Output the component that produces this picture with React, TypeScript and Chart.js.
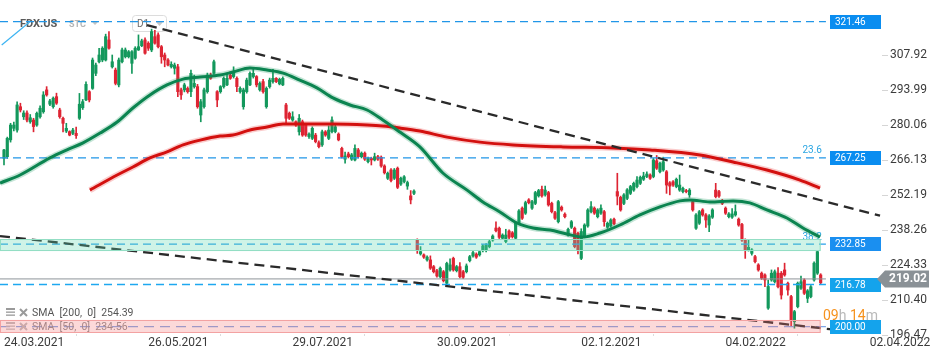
import { useEffect, useRef } from 'react';
import { Chart, registerables } from 'chart.js';

Chart.register(...registerables);

// ---------- DATA ----------
const open = [
  267.1,267.7,274.4,279.0,278.3,287.6,283.6,285.1,281.6,282.3,
  280.3,283.6,285.6,294.3,288.6,287.6,291.6,286.3,283.0,277.9,
  277.7,277.0,277.0,283.0,287.2,290.3,293.6,294.9,300.9,305.5,
  306.2,306.2,314.2,303.5,302.2,296.3,305.5,307.5,307.5,304.9,
  306.9,310.2,311.9,314.2,312.9,310.2,315.5,316.2,311.5,308.2,
  306.2,303.5,302.9,303.5,294.3,294.3,294.9,293.6,295.6,295.6,
  284.3,287.6,293.6,300.2,300.9,293.6,
  293.6,295.6,296.3,300.2,
  299.6,298.9,293.6,287.6,293.6,296.3,299.6,299.6,294.3,297.6,
  287.6,295.6,297.6,298.9,296.7,296.3,288.3,285.0,282.3,281.6,
  277.6,281.6,280.3,275.7,275.0,276.3,273.3,272.4,277.6,275.0,
  277.7,277.7,276.7,271.0,266.7,268.8,266.7,266.4,270.4,267.7,
  269.1,265.7,267.0,266.4,267.7,267.5,264.0,259.1,262.4,259.1,
  263.1,256.8,257.8,256.0,252.1,253.1,
  234.5,229.0,228.6,226.6,
  226.6,223.9,222.3,219.9,221.9,217.3,222.6,227.2,222.3,223.9,
  221.9,221.9,226.3,228.2,228.9,228.6,230.3,230.3,231.9,234.5,
  239.3,239.2,235.2,233.9,238.1,237.4,235.2,241.2,247.2,245.2,
  250.5,247.2,249.1,252.1,254.7,252.5,253.4,249.1,245.4,241.8,
  247.6,244.8,236.5,239.6,239.2,237.2,227.2,235.9,240.1,245.8,
  247.2,243.8,245.2,245.8,239.6,240.1,242.8,253.8,
  251.5,249.1,
  251.1,253.1,254.4,255.8,257.1,258.7,259.8,260.4,259.8,266.1,
  261.7,262.4,261.7,257.3,257.7,255.8,254.4,253.8,254.2,252.5,
  249.8,239.2,241.2,246.5,244.5,240.5,243.6,254.4,253.8,250.2,
  247.2,243.8,243.6,244.5,242.8,240.7,234.5,230.6,229.2,227.9,
  224.6,221.3,220.6,207.4,218.6,217.9,221.3,221.3,222.6,217.3,
  212.0,202.0,208.0,215.3,218.6,211.3,212.0,218.6,221.3,220.6,
];
const high = [
  270.6,275.5,281.0,281.5,289.5,289.0,286.0,286.0,284.5,283.0,
  285.5,288.0,293.6,295.6,290.5,291.5,293.0,287.0,283.5,281.0,
  278.0,279.0,279.5,292.9,290.5,297.5,294.0,307.0,305.0,310.9,
  311.5,316.5,317.5,308.2,303.0,307.0,311.0,311.0,310.0,310.0,
  311.5,316.2,314.5,315.0,313.5,318.5,318.0,317.0,312.0,309.0,
  306.8,305.5,305.0,304.5,295.0,297.0,295.5,302.2,300.2,296.5,
  290.5,295.0,301.0,301.0,306.2,294.0,
  296.0,299.5,300.5,301.5,
  303.5,299.5,295.5,295.0,299.0,301.5,302.9,300.0,297.5,298.5,
  295.5,299.0,302.5,299.2,299.0,299.5,289.0,285.5,285.6,282.0,
  284.5,282.3,281.0,277.2,279.6,277.0,274.0,278.3,278.1,280.0,
  283.6,280.2,277.2,271.5,269.5,269.5,269.0,272.4,271.0,269.6,
  269.6,267.5,267.5,269.1,268.2,268.0,264.5,261.6,263.0,263.0,
  263.6,259.6,260.2,258.0,254.2,254.5,
  235.0,231.9,229.0,228.2,
  228.2,224.4,222.8,223.8,222.4,225.7,227.0,227.7,224.4,225.5,
  222.4,225.0,228.4,230.0,229.4,230.4,232.7,233.1,234.4,236.6,
  241.8,239.7,237.0,238.8,238.6,237.9,241.7,246.6,247.7,250.0,
  251.0,250.3,253.9,254.7,256.0,256.0,253.9,249.6,245.9,250.3,
  248.1,245.3,239.3,242.3,239.7,237.7,239.0,241.0,247.0,249.8,
  247.7,247.0,248.5,246.3,241.7,243.0,243.3,261.1,
  252.0,253.0,
  255.0,256.3,257.6,259.8,260.0,261.5,261.7,260.9,267.0,268.2,
  265.6,267.5,262.2,257.8,258.2,259.2,260.4,255.6,254.7,255.0,
  250.3,245.0,246.3,247.0,245.0,244.6,247.0,257.1,254.3,250.7,
  247.7,245.4,247.0,248.5,243.3,241.2,235.0,234.5,231.1,228.4,
  225.1,221.8,221.1,218.6,222.6,222.6,223.5,222.0,225.3,217.8,
  212.5,206.5,217.8,220.2,219.1,214.8,216.4,225.8,230.4,221.1,
];
const low = [
  264.4,267.0,273.5,278.0,277.5,285.5,282.5,281.5,281.0,277.6,
  279.8,283.0,285.0,291.8,288.0,287.0,288.5,283.0,277.6,277.3,
  276.0,276.5,275.0,282.5,286.5,290.0,289.5,294.5,300.0,305.0,
  305.5,305.8,310.5,303.0,296.3,295.5,305.0,307.0,307.0,300.9,
  306.5,310.0,311.5,308.5,310.0,309.5,312.5,311.0,304.9,303.5,
  303.8,303.0,300.6,291.6,290.5,293.5,293.0,291.6,295.0,287.0,
  281.6,287.0,293.0,298.5,300.5,287.6,
  293.0,295.0,296.0,298.5,
  299.0,293.6,293.0,286.6,293.0,296.0,299.0,295.5,293.8,293.0,
  287.0,295.0,297.0,297.2,296.3,296.0,281.0,282.5,281.8,279.8,
  276.3,275.8,275.8,275.0,274.5,273.2,271.2,271.8,275.8,274.5,
  277.2,277.2,274.0,267.2,265.1,267.2,266.2,266.0,267.2,267.2,
  266.2,265.2,264.4,266.0,266.2,263.5,260.8,258.6,257.7,258.6,
  255.0,256.3,257.3,254.7,248.9,252.6,
  229.2,228.5,227.2,226.1,
  222.8,221.4,219.7,219.4,217.8,216.2,222.1,222.1,221.8,219.4,
  219.2,221.4,225.8,227.7,227.2,228.1,229.8,229.8,231.4,234.0,
  237.7,235.1,234.7,233.4,235.1,235.3,234.7,240.7,242.7,244.7,
  248.9,246.7,248.6,251.6,251.6,252.0,248.0,245.3,242.7,241.3,
  246.0,243.3,236.0,239.1,231.4,229.0,226.7,235.4,239.6,245.3,
  244.7,243.3,244.7,240.0,239.1,239.6,240.5,248.5,
  246.0,248.6,
  250.6,252.6,253.9,255.3,256.6,258.2,259.3,258.6,259.3,262.6,
  261.2,261.9,253.1,252.5,255.9,255.3,253.9,253.3,253.3,251.5,
  246.0,238.7,240.7,244.0,239.5,237.8,243.1,251.3,251.5,248.6,
  244.7,243.3,243.1,244.0,240.0,234.0,227.2,230.1,228.5,225.4,
  222.1,218.8,215.9,206.9,218.1,217.4,215.4,211.0,220.1,212.6,
  200.4,199.4,207.5,214.8,212.8,209.6,211.5,218.1,220.8,217.0,
];
const close = [
  270.4,275.0,280.3,280.3,288.3,286.3,285.1,282.3,283.2,279.7,
  285.0,287.0,292.3,292.3,289.9,291.0,289.0,283.6,281.0,279.0,
  276.3,278.3,276.1,288.6,289.6,296.5,290.3,306.2,304.2,308.2,
  310.9,315.5,310.9,305.5,296.9,306.2,310.2,310.2,309.5,309.5,
  310.9,311.5,313.8,308.9,310.9,317.5,312.9,311.5,307.5,306.2,
  304.2,304.5,304.2,293.6,292.3,296.3,293.6,300.9,296.9,287.6,
  289.6,294.3,300.2,298.9,305.5,290.3,
  295.6,298.9,298.9,298.9,
  301.2,295.6,294.9,294.3,298.2,300.9,300.9,296.3,296.9,293.6,
  294.9,298.2,298.9,297.6,298.5,298.9,283.0,283.0,283.6,280.3,
  283.0,276.3,276.3,276.7,279.0,273.7,271.7,277.6,276.3,278.3,
  282.3,279.6,274.4,267.7,268.0,267.7,268.4,271.0,267.7,269.1,
  266.7,267.0,266.4,267.7,266.7,264.0,261.3,261.1,258.2,262.4,
  255.5,259.1,259.7,257.4,250.5,254.0,
  230.3,229.9,227.7,227.7,
  223.3,221.9,220.2,223.3,218.3,225.2,224.6,222.6,223.9,219.9,
  219.7,224.2,227.9,229.5,227.7,229.9,232.2,232.6,233.9,236.1,
  238.2,235.6,236.5,236.5,235.6,235.8,241.2,246.1,243.2,249.4,
  249.4,249.8,253.4,254.2,252.1,254.4,248.5,245.8,243.2,249.8,
  246.5,243.8,238.8,241.8,231.9,230.6,237.9,240.5,246.5,247.8,
  245.2,246.5,247.2,241.8,241.2,242.5,241.0,252.0,
  246.5,252.5,
  254.5,255.8,257.1,258.4,259.5,260.0,260.8,259.1,266.4,263.1,
  265.1,265.7,256.4,256.0,256.4,258.7,256.4,255.1,253.8,254.4,
  246.5,244.5,245.8,244.5,242.5,244.1,246.5,251.8,252.0,249.1,
  245.2,244.9,244.9,245.8,240.5,234.5,230.6,231.6,230.6,225.9,
  222.6,219.3,218.6,216.0,221.3,221.9,215.9,212.6,220.6,214.6,
  202.7,206.0,217.3,217.9,213.3,214.3,215.9,225.3,229.9,217.5,
];

// SMA 50 (bar index, value)
const sma50Idx = [-1.2,4.9,14.0,19.2,24.1,29.3,34.5,39.3,44.5,49.7,54.6,59.8,65.9,69.8,75.0,80.2,85.1,90.2,95.4,100.3,105.5,110.7,115.5,120.7,126.8,133.8,141.2,146.0,151.2,156.4,161.3,166.5,171.6,176.5,181.7,187.8,193.9,200.0,206.1,209.1,215.2,222.3,227.4,232.6,238.7,243.6,248.8];
const sma50Val = [257.2,260.4,267.2,270.4,273.2,277.1,281.5,287.1,292.3,296.3,298.6,299.4,300.2,301.4,303.0,302.2,301.0,298.2,295.1,291.1,288.3,286.3,282.3,277.5,271.6,261.2,254.4,249.7,245.7,241.3,239.3,238.5,236.9,235.7,237.3,240.5,244.5,247.7,250.1,250.5,249.7,250.1,249.3,246.5,243.3,239.3,235.7];
// SMA 200
const sma200Idx = [26.2,34.5,39.3,44.5,49.7,54.6,59.8,65.9,69.8,75.0,80.2,85.1,90.2,100.3,110.7,115.5,120.7,126.8,135.1,145.1,155.2,170.4,185.7,197.0,212.2,222.3,232.6,242.7,248.8];
const sma200Val = [254.4,260.4,263.6,267.2,269.6,272.4,274.3,275.9,276.3,278.3,279.5,280.7,280.7,280.7,280.3,279.9,279.1,277.9,275.5,273.5,272.4,271.6,271.2,270.4,268.4,265.6,262.4,258.4,255.2];

// Trend lines
const trendUpperIdx = [43.6, 267.1];
const trendUpperVal = [320.1, 244.2];
const trendLowerIdx = [-1.22, 253.4];
const trendLowerVal = [236.1, 198.8];
const fibDiagIdx = [-0.7, 7.9];
const fibDiagVal = [312.2, 321.46];

// Horizontal levels
const levelValues = [321.46, 267.25, 232.85, 216.78, 200.0];
const levelStartIdx = -1.22;
const levelEndIdx = 250.6;
const currentPrice = 219.02;

// Zones
const zoneLow = [230.1, 197.6];
const zoneHigh = [234.9, 202.7];
const zoneStartIdx = -1.22;
const zoneEndIdx = 249;

// Fibonacci labels
const fibLabels = ['23.6', '38.2'];
const fibLabelLevels = [267.25, 232.85];
const fibLabelIdx = 249.4;

// Axis ticks
const yTicks = [196.47, 210.40, 224.33, 238.26, 252.19, 266.13, 280.06, 293.99, 307.92];
const dateTickIdx = [0, 44, 88, 132, 176, 220, 264];
const dateLabels = ['24.03.2021', '26.05.2021', '29.07.2021', '30.09.2021', '02.12.2021', '04.02.2022', '02.04.2022'];

const smaLegend = ['SMA  [200,  0]  254.39', 'SMA  [50,  0]  234.56'];
const symbol = 'FDX.US';
const countdown = ['09', 'h ', '14', 'm'];

const X_MIN = -1.22;
const X_MAX = 267.7;
const Y_MIN = 197.09;
const Y_MAX = 330.1;

const GREEN = '#13985c';
const RED = '#de2433';

const overlayPlugin = {
  id: 'overlay',
  beforeDatasetsDraw(chart: any) {
    const { ctx, scales } = chart;
    const x = scales.x, y = scales.y;
    ctx.save();
    // fib labels
    ctx.font = '10px Roboto';
    ctx.fillStyle = '#2ba6e3';
    ctx.textAlign = 'right';
    ctx.textBaseline = 'alphabetic';
    fibLabels.forEach((t, k) => {
      ctx.fillText(t, x.getPixelForValue(fibLabelIdx), y.getPixelForValue(fibLabelLevels[k]) - 4.5);
    });
    // header
    ctx.textAlign = 'left';
    ctx.textBaseline = 'middle';
    ctx.font = 'bold 11px Roboto';
    ctx.fillStyle = '#5a5a5a';
    ctx.fillText(symbol, 20, 24);
    ctx.font = 'bold 9px Roboto';
    ctx.fillStyle = '#b5b5b5';
    ctx.fillText('STC', 69, 25);
    ctx.fillStyle = '#c4c4c4';
    ctx.beginPath(); ctx.moveTo(91, 21); ctx.lineTo(99, 21); ctx.lineTo(95, 25); ctx.closePath(); ctx.fill();
    ctx.fillStyle = '#ffffff';
    ctx.strokeStyle = '#dcdcdc';
    ctx.lineWidth = 1;
    ctx.beginPath();
    (ctx as any).roundRect(132.5, 15.5, 34, 16, 3);
    ctx.fill(); ctx.stroke();
    ctx.font = '10px Roboto';
    ctx.fillStyle = '#6d6d6d';
    ctx.fillText('D1', 137, 24);
    ctx.fillStyle = '#c8c8c8';
    ctx.beginPath(); ctx.moveTo(156, 22); ctx.lineTo(163, 22); ctx.lineTo(159.5, 26); ctx.closePath(); ctx.fill();
    ctx.restore();
  },
  afterDatasetsDraw(chart: any) {
    const { ctx, scales, chartArea } = chart;
    const x = scales.x, y = scales.y;
    ctx.save();
    // SMA legend
    ctx.font = '10.5px Roboto';
    ctx.textAlign = 'left';
    ctx.textBaseline = 'middle';
    smaLegend.forEach((t, k) => {
      const ty = chartArea.bottom - 21 + k * 14;
      const iconC = k === 0 ? '#9a9a9a' : '#bdbdbd';
      ctx.fillStyle = iconC;
      ctx.fillRect(6, ty - 5, 9, 2);
      ctx.fillRect(6, ty - 1.5, 9, 1.3);
      ctx.fillRect(6, ty + 1.5, 9, 1.3);
      ctx.strokeStyle = iconC;
      ctx.lineWidth = 2;
      ctx.beginPath();
      ctx.moveTo(20, ty - 4); ctx.lineTo(27, ty + 3);
      ctx.moveTo(27, ty - 4); ctx.lineTo(20, ty + 3);
      ctx.stroke();
      ctx.fillStyle = k === 0 ? '#555555' : '#8c8c8c';
      ctx.fillText(t, 32, ty);
    });
    // zones
    const fills = ['rgba(95,215,175,0.30)', 'rgba(245,120,120,0.28)'];
    const strokes = ['#93dec4', '#f3a2a2'];
    const x0 = x.getPixelForValue(zoneStartIdx);
    const x1 = x.getPixelForValue(zoneEndIdx);
    zoneLow.forEach((lo, k) => {
      const yt = y.getPixelForValue(zoneHigh[k]);
      const yb = y.getPixelForValue(lo);
      ctx.fillStyle = fills[k];
      ctx.fillRect(x0, yt, x1 - x0, yb - yt);
      ctx.strokeStyle = strokes[k];
      ctx.lineWidth = 1;
      ctx.strokeRect(x0 + 0.5, Math.round(yt) + 0.5, x1 - x0 - 1, Math.round(yb - yt) - 1);
    });
    ctx.restore();
  },
  afterDraw(chart: any) {
    const { ctx, scales, chartArea } = chart;
    const y = scales.y;
    ctx.save();
    // level boxes
    const boxColors = ['#0a8df0', '#0a8df0', '#1a8ff0', '#14a3ec', '#14a3ec'];
    const bl = chartArea.right - 52;
    ctx.font = '10px Roboto';
    ctx.textAlign = 'left';
    ctx.textBaseline = 'middle';
    levelValues.forEach((v, k) => {
      const py = y.getPixelForValue(v);
      ctx.fillStyle = boxColors[k];
      ctx.fillRect(bl, Math.round(py - 7), 51, 14);
      ctx.fillStyle = '#ffffff';
      ctx.fillText(v.toFixed(2), bl + 5, py + 0.5);
    });
    // countdown
    ctx.font = '14px Roboto';
    let cx = chartArea.right - 59;
    const cy = chartArea.bottom - 18;
    countdown.forEach((t, k) => {
      ctx.fillStyle = k % 2 === 0 ? '#f6921e' : '#b9b9b9';
      ctx.fillText(t, cx, cy);
      cx += ctx.measureText(t).width;
    });
    // current price arrow box
    const py = y.getPixelForValue(currentPrice);
    const r = chartArea.right;
    ctx.fillStyle = '#8a9196';
    ctx.beginPath();
    ctx.moveTo(r - 5, py);
    ctx.lineTo(r + 3, py - 8.5);
    ctx.lineTo(r + 47, py - 8.5);
    ctx.lineTo(r + 47, py + 8.5);
    ctx.lineTo(r + 3, py + 8.5);
    ctx.closePath();
    ctx.fill();
    ctx.font = 'bold 12px Roboto';
    ctx.fillStyle = '#ffffff';
    ctx.fillText(currentPrice.toFixed(2), r + 7, py + 0.5);
    ctx.restore();
  },
};

export default function App() {
  const ref = useRef<HTMLCanvasElement>(null);
  useEffect(() => {
    const canvas = ref.current;
    if (!canvas) return;
    Chart.defaults.font.family = 'Roboto';
    const n = Math.min(open.length, high.length, low.length, close.length);
    const idx = Array.from({ length: n }, (_, i) => i);
    const colors = idx.map((i) => (close[i] >= open[i] ? GREEN : RED));
    const pts = (xs: number[], ys: number[]) => xs.map((xv, k) => ({ x: xv, y: ys[k] }));
    const levelColors = ['#2196e8', '#2196e8', '#2aa0ea', '#1ea8f0', '#7fa6e6'];
    const levelDatasets: any[] = levelValues.map((v, k) => ({
      type: 'line',
      data: [{ x: levelStartIdx, y: v }, { x: levelEndIdx, y: v }],
      borderColor: levelColors[k],
      borderWidth: k === 3 ? 1.6 : 1.2,
      borderDash: k === 4 ? [10, 6] : [8, 5],
      pointRadius: 0,
      order: 3,
    }));
    const chart = new Chart(canvas, {
      type: 'bar',
      data: {
        datasets: [
          {
            type: 'line',
            data: pts(trendUpperIdx, trendUpperVal),
            borderColor: '#2a2a2a',
            borderWidth: 2.3,
            borderDash: [10, 6],
            pointRadius: 0,
            order: 0,
          } as any,
          {
            type: 'line',
            data: pts(trendLowerIdx, trendLowerVal),
            borderColor: '#2a2a2a',
            borderWidth: 2.3,
            borderDash: [10, 6],
            pointRadius: 0,
            order: 0,
          },
          {
            type: 'line',
            data: pts(fibDiagIdx, fibDiagVal),
            borderColor: '#3db4f2',
            borderWidth: 1.2,
            pointRadius: 0,
            order: 0,
          },
          {
            type: 'line',
            data: pts(sma50Idx, sma50Val),
            borderColor: '#0b8450',
            borderWidth: 3,
            cubicInterpolationMode: 'monotone',
            pointRadius: 0,
            order: 1,
          },
          {
            type: 'line',
            data: pts(sma200Idx, sma200Val),
            borderColor: '#d3100f',
            borderWidth: 3,
            cubicInterpolationMode: 'monotone',
            pointRadius: 0,
            order: 1,
          },
          {
            type: 'line',
            data: pts(sma50Idx, sma50Val),
            borderColor: 'rgba(20,150,90,0.25)',
            borderWidth: 6,
            cubicInterpolationMode: 'monotone',
            pointRadius: 0,
            order: 2,
          },
          {
            type: 'line',
            data: pts(sma200Idx, sma200Val),
            borderColor: 'rgba(235,50,50,0.25)',
            borderWidth: 6,
            cubicInterpolationMode: 'monotone',
            pointRadius: 0,
            order: 2,
          },
          ...levelDatasets,
          {
            type: 'line',
            data: [{ x: levelStartIdx, y: currentPrice }, { x: levelEndIdx, y: currentPrice }],
            borderColor: '#8e9499',
            borderWidth: 1,
            pointRadius: 0,
            order: 3,
          },
          {
            type: 'bar',
            data: idx.map((i) => ({ x: i, y: [open[i], close[i]] })),
            backgroundColor: colors,
            borderWidth: 0,
            barThickness: 2.5,
            grouped: false,
            order: 4,
          },
          {
            type: 'bar',
            data: idx.map((i) => ({ x: i, y: [low[i], high[i]] })),
            backgroundColor: colors,
            borderWidth: 0,
            barThickness: 1,
            grouped: false,
            order: 5,
          },
        ] as any,
      },
      options: {
        animation: false,
        responsive: false,
        devicePixelRatio: 1,
        events: [],
        layout: { padding: 0 },
        plugins: { legend: { display: false }, tooltip: { enabled: false } },
        scales: {
          x: {
            type: 'linear',
            min: X_MIN,
            max: X_MAX,
            offset: false,
            border: { display: false },
            grid: { drawOnChartArea: false, drawTicks: true, tickLength: 2, color: '#dcdcdc' },
            afterBuildTicks: (s: any) => {
              s.ticks = dateTickIdx.map((v) => ({ value: v }));
            },
            afterFit: (s: any) => {
              s.height = 26;
              s.paddingLeft = 0;
              s.paddingRight = 0;
            },
            ticks: {
              autoSkip: false,
              maxRotation: 0,
              minRotation: 0,
              align: 'start',
              padding: 0,
              color: '#3b3b3b',
              font: { family: 'Roboto', size: 12 },
              callback: (_v: any, i: number) => dateLabels[i],
            },
          },
          y: {
            type: 'linear',
            position: 'right',
            min: Y_MIN,
            max: Y_MAX,
            border: { display: false },
            grid: { drawOnChartArea: false, drawTicks: true, tickLength: 6, color: '#d5d5d5' },
            afterBuildTicks: (s: any) => {
              s.ticks = yTicks.map((v) => ({ value: v }));
            },
            afterFit: (s: any) => {
              s.width = 68;
              s.paddingTop = 0;
              s.paddingBottom = 0;
            },
            ticks: {
              padding: 2,
              labelOffset: -1,
              color: '#3b3b3b',
              font: { family: 'Roboto', size: 12 },
              callback: (v: any) => Number(v).toFixed(2),
            },
          },
        },
      } as any,
      plugins: [overlayPlugin],
    });
    return () => chart.destroy();
  }, []);
  return (
    <div style={{ position: 'absolute', left: 0, top: 0, width: 950, height: 360, background: '#fff' }}>
      <canvas ref={ref} width={950} height={360} style={{ display: 'block' }} />
    </div>
  );
}
